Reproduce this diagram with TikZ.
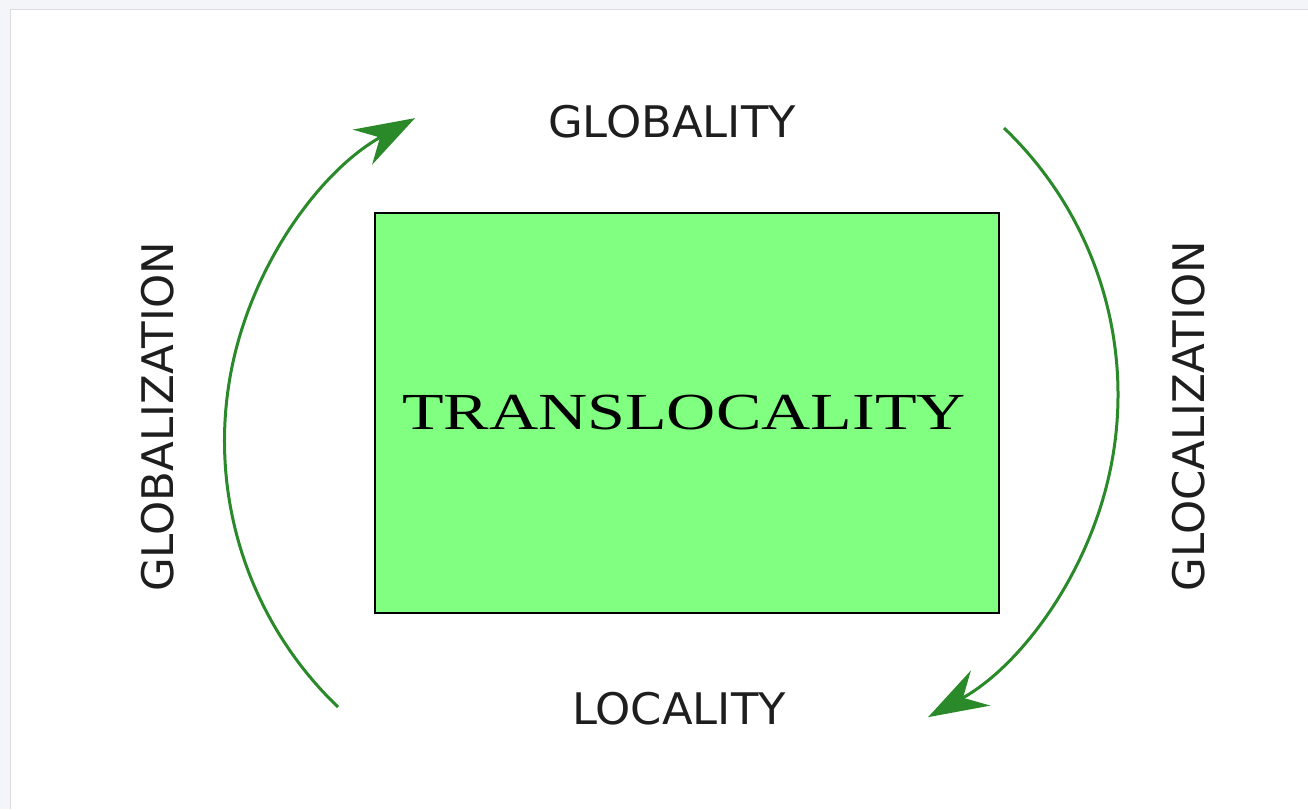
\documentclass[tikz,border=0pt]{standalone}
\usepackage{fontspec}
\newfontfamily\labelfont{DejaVu Sans}
\newfontfamily\titlefont{Liberation Serif}
\usetikzlibrary{arrows.meta}
\definecolor{pagegray}{HTML}{F4F5F8}
\definecolor{edgegray}{HTML}{DCDCDE}
\definecolor{boxgreen}{HTML}{80FF80}
\definecolor{arcgreen}{HTML}{2A8A2A}
\definecolor{ink}{HTML}{1E1E1E}
\tikzset{
  label text/.style={text=ink, inner sep=0pt, font=\labelfont\fontsize{43.5}{52}\selectfont},
  centre box/.style={draw=black, line width=2.4pt, fill=boxgreen, minimum width=624pt, minimum height=400pt, inner sep=0pt},
  flow arc/.style={draw=arcgreen, line width=3pt,
    -{Stealth[length=60pt, width=40pt, inset=20pt]}},
}
\begin{document}
\begin{tikzpicture}[x=1pt, y=-1pt]
  \useasboundingbox (0,0) rectangle (1308,809);
  % page and white panel
  \fill[pagegray] (0,0) rectangle (1308,809);
  \fill[white] (10,9) rectangle (1308,809);
  \draw[edgegray, line width=1.5pt] (10.5,809) -- (10.5,9.5) -- (1308,9.5);

  % central box
  \node[centre box] (core) at (687,413) {};
  \node[text=black, inner sep=0pt, font=\titlefont\fontsize{52}{60}\selectfont] (coretext) at (684,413)
    {\scalebox{1.31}[1]{TRANSLOCALITY}};

  % surrounding labels
  \node[label text] (top) at (672,122) {\scalebox{1.03}[1]{GLOBALITY}};
  \node[label text] (bottom) at (679,709) {\scalebox{1.03}[1]{LOCALITY}};
  \node[label text, rotate=90] (left) at (158,417) {GLOBALIZATION};
  \node[label text, rotate=90] (right) at (1189,416) {GLOCALIZATION};

  % arc start points (circular arcs of equal radius)
  \coordinate (l0) at (338,707);
  \coordinate (r0) at (1004,128);

  % cycle arrows
  \draw[flow arc] (l0) arc[start angle=133.8, end angle=241.1, radius=368.7];
  \draw[flow arc] (r0) arc[start angle=-46.3, end angle=61.0, radius=368.8];
\end{tikzpicture}
\end{document}
